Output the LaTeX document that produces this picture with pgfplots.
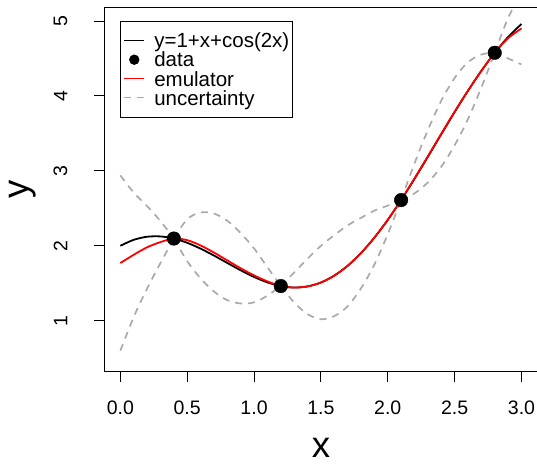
\documentclass[border=0pt]{standalone}
\usepackage{graphicx}
\usepackage{fontspec}
\setmainfont{Liberation Sans}
\usepackage{pgfplots}
\pgfplotsset{compat=1.18}
\usepackage{pgfplotstable}
\definecolor{bandgray}{HTML}{AAAAAA}

% true function
\pgfplotstableread{
x y
0.0 2.000
0.1 2.080
0.2 2.121
0.3 2.125
0.4 2.097
0.5 2.040
0.6 1.962
0.7 1.870
0.8 1.771
0.9 1.673
1.0 1.584
1.1 1.512
1.2 1.463
1.3 1.443
1.4 1.458
1.5 1.510
1.6 1.602
1.7 1.733
1.8 1.903
1.9 2.109
2.0 2.346
2.1 2.610
2.2 2.893
2.3 3.188
2.4 3.488
2.5 3.784
2.6 4.069
2.7 4.335
2.8 4.576
2.9 4.786
3.0 4.960
}\truetbl

% emulator mean (red)
\pgfplotstableread{
x y
0.0 1.770
0.1 1.880
0.2 1.980
0.3 2.050
0.4 2.097
0.5 2.075
0.6 2.005
0.7 1.910
0.8 1.805
0.9 1.700
1.0 1.605
1.1 1.525
1.2 1.463
1.3 1.443
1.4 1.458
1.5 1.510
1.6 1.602
1.7 1.733
1.8 1.903
1.9 2.109
2.0 2.346
2.1 2.610
2.2 2.900
2.3 3.195
2.4 3.495
2.5 3.790
2.6 4.070
2.7 4.333
2.8 4.576
2.9 4.770
3.0 4.900
}\emutbl

% uncertainty band, upper and lower
\pgfplotstableread{
x u l
0.0 2.940 0.600
0.1 2.710 1.050
0.2 2.530 1.430
0.3 2.330 1.770
0.4 2.097 2.097
0.5 2.355 1.795
0.6 2.445 1.565
0.7 2.430 1.390
0.8 2.335 1.275
0.9 2.170 1.230
1.0 1.965 1.245
1.1 1.715 1.335
1.2 1.463 1.463
1.3 1.643 1.243
1.4 1.828 1.088
1.5 2.000 1.020
1.6 2.142 1.062
1.7 2.273 1.193
1.8 2.373 1.433
1.9 2.469 1.749
2.0 2.536 2.156
2.1 2.610 2.610
2.2 3.100 2.700
2.3 3.545 2.845
2.4 3.935 3.055
2.5 4.240 3.340
2.6 4.450 3.690
2.7 4.553 4.113
2.8 4.576 4.576
2.9 5.040 4.500
3.0 5.380 4.420
}\bandtbl

\begin{document}
\begin{tikzpicture}[x=1pt,y=1pt]
\begin{axis}[
  at={(104.3pt,91.3pt)}, anchor=south west,
  scale only axis, width=433.2pt, height=364.2pt,
  xmin=-0.12, xmax=3.12, ymin=0.32, ymax=5.18,
  axis line style={line width=0.9pt},
  xtick={0,0.5,1,1.5,2,2.5,3},
  xticklabels={0.0,0.5,1.0,1.5,2.0,2.5,3.0},
  ytick={1,2,3,4,5},
  yticklabels={\rotatebox{90}{1},\rotatebox{90}{2},\rotatebox{90}{3},\rotatebox{90}{4},\rotatebox{90}{5}},
  xtick pos=left, ytick pos=left,
  tick align=outside, major tick length=10.5pt,
  tick style={line width=0.9pt, black},
  ticklabel style={font=\fontsize{19.5}{20}\selectfont},
  xticklabel style={anchor=north, inner sep=0pt},
  yticklabel style={anchor=east, inner sep=0pt, xshift=-26.3pt},
  xticklabel shift=18.5pt,
  yticklabel shift=0pt,
  every axis x label/.style={at={(axis description cs:0.5,-0.2368)}, anchor=base,
    inner sep=0pt, font=\fontsize{36.5}{40}\selectfont},
  every axis y label/.style={at={(axis description cs:-0.1745,0.5)}, rotate=90, anchor=base,
    inner sep=0pt, font=\fontsize{36.5}{40}\selectfont},
  xlabel={x}, ylabel={y},
  legend cell align=left,
  legend style={at={(axis cs:0,5)}, anchor=north west, draw=black, line width=0.9pt,
    inner xsep=3pt, inner ysep=9.6pt, row sep=0pt, column sep=0pt,
    font=\fontsize{20.5}{20.5}\selectfont,
    nodes={inner sep=0pt, text height=16.85pt, text depth=2.25pt}},
]
\addplot[black, line width=1.8pt, smooth,
  legend image code/.code={\path[draw=none] (0pt,0pt) -- (30pt,0pt);
    \draw[black, line width=1pt] (0pt,0pt) -- (20pt,0pt);}] table {\truetbl};
\addlegendentry{y=1+x+cos(2x)}

\addplot[only marks, mark=*, mark size=6.8pt, black,
  legend image code/.code={\path[draw=none] (0pt,0pt) -- (30pt,0pt);
    \draw[only marks, mark=*, mark size=4.7pt, black] plot coordinates {(10pt,0pt)};}]
  coordinates {(0.4,2.097) (1.2,1.463) (2.1,2.610) (2.8,4.576)};
\addlegendentry{data}

\addplot[red, line width=1.8pt, smooth,
  legend image code/.code={\path[draw=none] (0pt,0pt) -- (30pt,0pt);
    \draw[red, line width=1pt] (0pt,0pt) -- (20pt,0pt);}] table {\emutbl};
\addlegendentry{emulator}

\pgfplotsinvokeforeach{-0.01:0.41, 0.39:1.21, 1.19:2.11, 2.09:2.81, 2.79:3.01}{
  \addplot[bandgray, line width=1.7pt, dash pattern=on 7pt off 6pt, smooth,
    restrict x to domain=#1, forget plot] table[y=u] {\bandtbl};
  \addplot[bandgray, line width=1.7pt, dash pattern=on 7pt off 6pt, smooth,
    restrict x to domain=#1, forget plot] table[y=l] {\bandtbl};
}
\addlegendimage{legend image code/.code={\path[draw=none] (0pt,0pt) -- (30pt,0pt);
    \draw[bandgray, line width=1pt, dash pattern=on 7pt off 5.5pt] (0pt,0pt) -- (20pt,0pt);}}
\addlegendentry{uncertainty}
\end{axis}
\pgfresetboundingbox
\path[use as bounding box] (0,0) rectangle (537,463);
\end{tikzpicture}
\end{document}
